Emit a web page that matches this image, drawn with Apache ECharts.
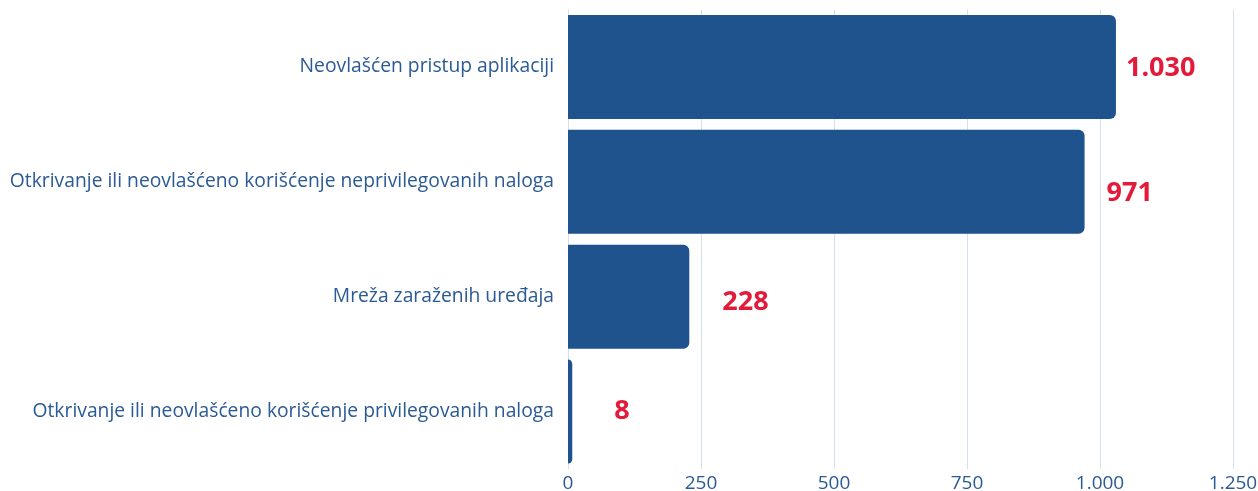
<!DOCTYPE html>
<html><head><meta charset="utf-8">
<script src="https://cdn.jsdelivr.net/npm/echarts@6/dist/echarts.min.js"></script>
<style>html,body{margin:0;padding:0;background:#fff}#c{width:1258px;height:491px}</style>
</head><body><div id="c"></div>
<script>
const categories = [
  'Neovlašćen pristup aplikaciji',
  'Otkrivanje ili neovlašćeno korišćenje neprivilegovanih naloga',
  'Mreža zaraženih uređaja',
  'Otkrivanje ili neovlašćeno korišćenje privilegovanih naloga'
];
const values = [1030, 971, 228, 8];
const xTicks = [0, 250, 500, 750, 1000, 1250];

function fmt(v){ return String(v).replace(/\B(?=(\d{3})+(?!\d))/g, '.'); }

const labelDist = [10, 22, 33, 42];
const labelDy = [1, 11, 6, 0];

const chart = echarts.init(document.getElementById('c'));
chart.setOption({
  animation: false,
  grid: { left: 568, right: 25, top: 9.5, bottom: 22, containLabel: false, outerBoundsMode: 'none' },
  xAxis: {
    type: 'value', min: xTicks[0], max: xTicks[xTicks.length-1], interval: 250,
    axisLine: { show: false }, axisTick: { show: false },
    splitLine: { lineStyle: { color: '#d6e0ea', width: 1 } },
    axisLabel: { color: '#2a5a95', fontSize: 19, fontFamily: 'Open Sans', margin: 5, formatter: fmt }
  },
  yAxis: {
    type: 'category', inverse: true, data: categories,
    axisLine: { show: false }, axisTick: { show: false },
    axisLabel: { color: '#2a5a95', fontSize: 19.3, fontFamily: 'Open Sans', margin: 14 }
  },
  series: [{
    type: 'bar', barCategoryGap: '9.5%',
    itemStyle: { color: '#1f538d', borderRadius: [0, 6, 6, 0] },
    data: values.map((v, i) => ({
      value: v,
      label: { distance: labelDist[i], offset: [0, labelDy[i]] }
    })),
    label: {
      show: true, position: 'right', color: '#e41a3b', fontSize: 27, fontWeight: 'bold',
      fontFamily: 'Open Sans', formatter: p => fmt(p.value)
    }
  }]
});
</script></body></html>
